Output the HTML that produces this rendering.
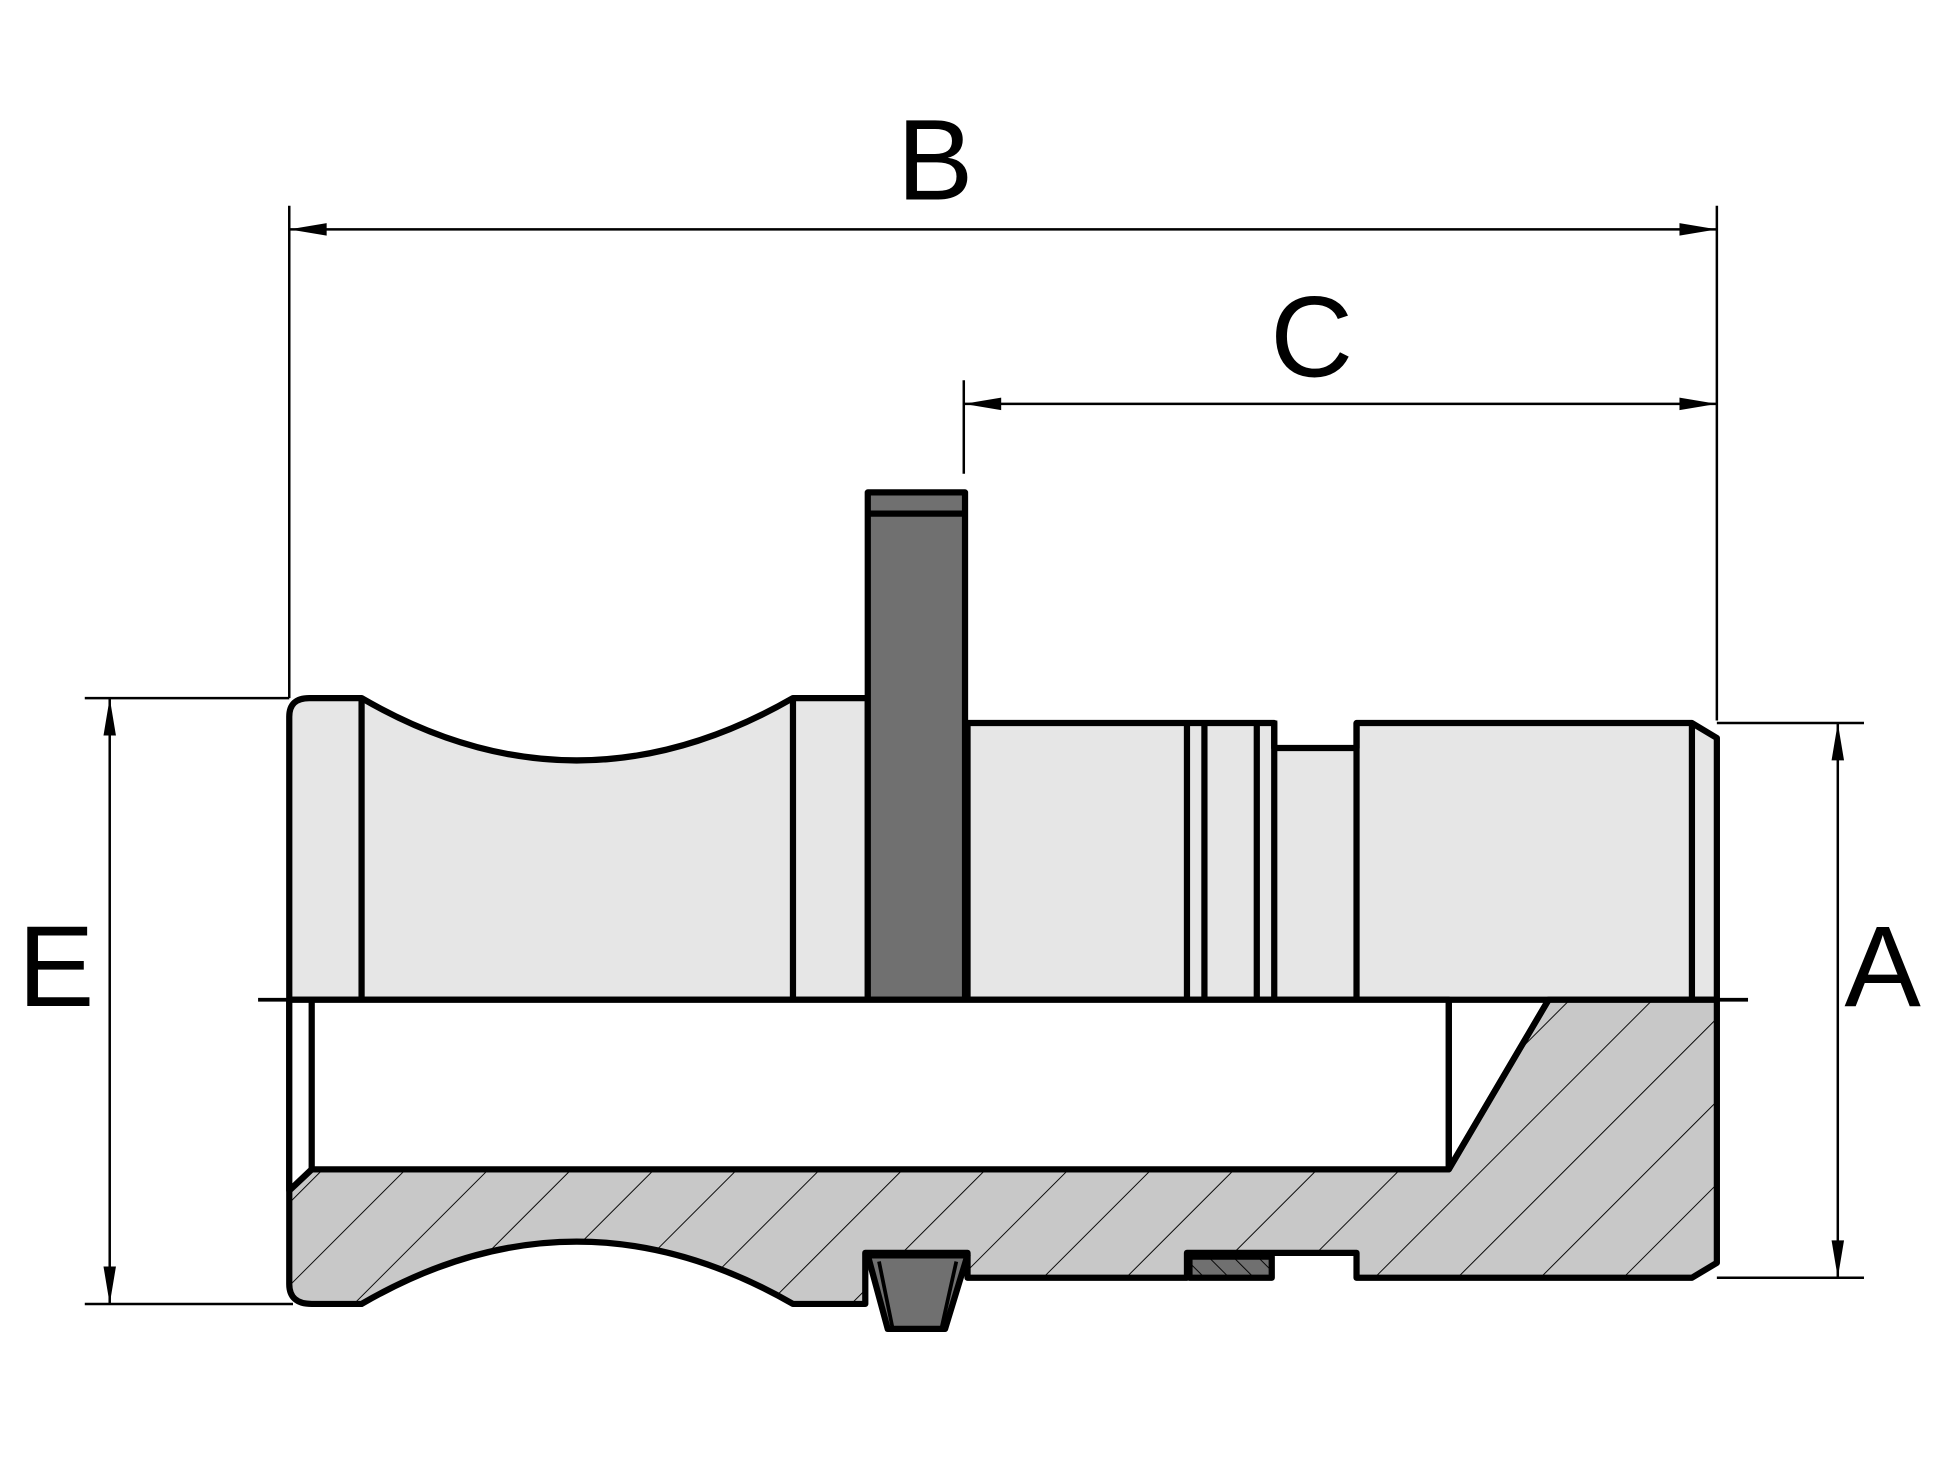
<!DOCTYPE html>
<html><head><style>html,body{margin:0;padding:0;background:#fff}svg{display:block}</style></head>
<body>
<svg width="1955" height="1466" viewBox="0 0 1568 1176" preserveAspectRatio="none" xmlns="http://www.w3.org/2000/svg">
<defs>
<pattern id="h" patternUnits="userSpaceOnUse" width="47" height="47" patternTransform="rotate(45)">
<rect width="47" height="47" fill="#c8c8c8"/>
<line x1="0" y1="0" x2="0" y2="47" stroke="#000" stroke-width="1.5"/>
</pattern>
<pattern id="h2" patternUnits="userSpaceOnUse" width="14" height="14" patternTransform="rotate(-45)">
<rect width="14" height="14" fill="#707070"/>
<line x1="0" y1="0" x2="0" y2="14" stroke="#000" stroke-width="1.5"/>
</pattern>
</defs>
<g fill="none" stroke="#000" stroke-width="2">
<line x1="232" y1="165" x2="232" y2="560"/>
<line x1="1377" y1="165" x2="1377" y2="578"/>
<line x1="232" y1="184" x2="1377" y2="184"/>
<line x1="773" y1="305" x2="773" y2="380"/>
<line x1="773" y1="324" x2="1377" y2="324"/>
<line x1="68" y1="560" x2="232" y2="560"/>
<line x1="68" y1="1046" x2="235" y2="1046"/>
<line x1="88" y1="560" x2="88" y2="1046"/>
<line x1="1377" y1="580" x2="1495" y2="580"/>
<line x1="1377" y1="1025" x2="1495" y2="1025"/>
<line x1="1474" y1="580" x2="1474" y2="1025"/>
</g>
<g fill="#000">
<polygon points="232,184 262,179 262,189"/>
<polygon points="1377,184 1347,179 1347,189"/>
<polygon points="773,324 803,319 803,329"/>
<polygon points="1377,324 1347,319 1347,329"/>
<polygon points="88,560 83,590 93,590"/>
<polygon points="88,1046 83,1016 93,1016"/>
<polygon points="1474,580 1469,610 1479,610"/>
<polygon points="1474,1025 1469,995 1479,995"/>
</g>
<g font-family="'Liberation Sans',sans-serif" font-size="92" fill="#000" text-anchor="middle">
<text x="750" y="160">B</text>
<text x="1052" y="302">C</text>
<text x="45" y="807">E</text>
<text x="1510" y="807">A</text>
</g>
<g stroke="#000" stroke-width="5" stroke-linejoin="round">
<path d="M232,802 L232,575 Q232,560 248,560 L290,560 Q462,660 636,560 L696,560 L696,802 Z" fill="#e6e6e6"/>
<line x1="290" y1="560" x2="290" y2="802"/>
<line x1="636" y1="560" x2="636" y2="802"/>
<path d="M776,802 L776,580 L952,580 L952,580 L1022,580 L1022,600 L1088,600 L1088,580 L1357,580 L1377,592 L1377,802 Z" fill="#e6e6e6"/>
<line x1="952" y1="578" x2="952" y2="802"/>
<line x1="966" y1="578" x2="966" y2="802"/>
<line x1="1008" y1="578" x2="1008" y2="802"/>
<line x1="1022" y1="578" x2="1022" y2="802"/>
<line x1="1088" y1="580" x2="1088" y2="802"/>
<line x1="1357" y1="580" x2="1357" y2="802"/>
<rect x="696" y="395" width="78" height="407" fill="#707070"/>
<line x1="696" y1="412" x2="774" y2="412"/>
<path d="M232,802 L232,1030 Q232,1046 250,1046 L290,1046 Q462,946 636,1046 L694,1046 L694,1005 L776,1005 L776,1025 L952,1025 L952,1005 L1088,1005 L1088,1025 L1357,1025 L1377,1013 L1377,802 L1242,802 L1162,938 L250,938 L232,955 Z" fill="url(#h)"/>
<path d="M232,802 L232,955 L250,938 L1162,938 L1162,802 Z" fill="#fff"/>
<line x1="250" y1="802" x2="250" y2="938"/>
<line x1="1162" y1="802" x2="1162" y2="938"/>
<line x1="1162" y1="938" x2="1242" y2="802"/>
<rect x="954" y="1008" width="66" height="17" fill="url(#h2)"/>
<path d="M696,1007 L776,1007 L758,1066 L712,1066 Z" fill="#707070"/>
<line x1="705" y1="1012" x2="716" y2="1066" stroke-width="3"/>
<line x1="767" y1="1012" x2="755" y2="1066" stroke-width="3"/>
<line x1="207" y1="802" x2="1402" y2="802" stroke-width="3"/>
</g>
</svg>
</body></html>
